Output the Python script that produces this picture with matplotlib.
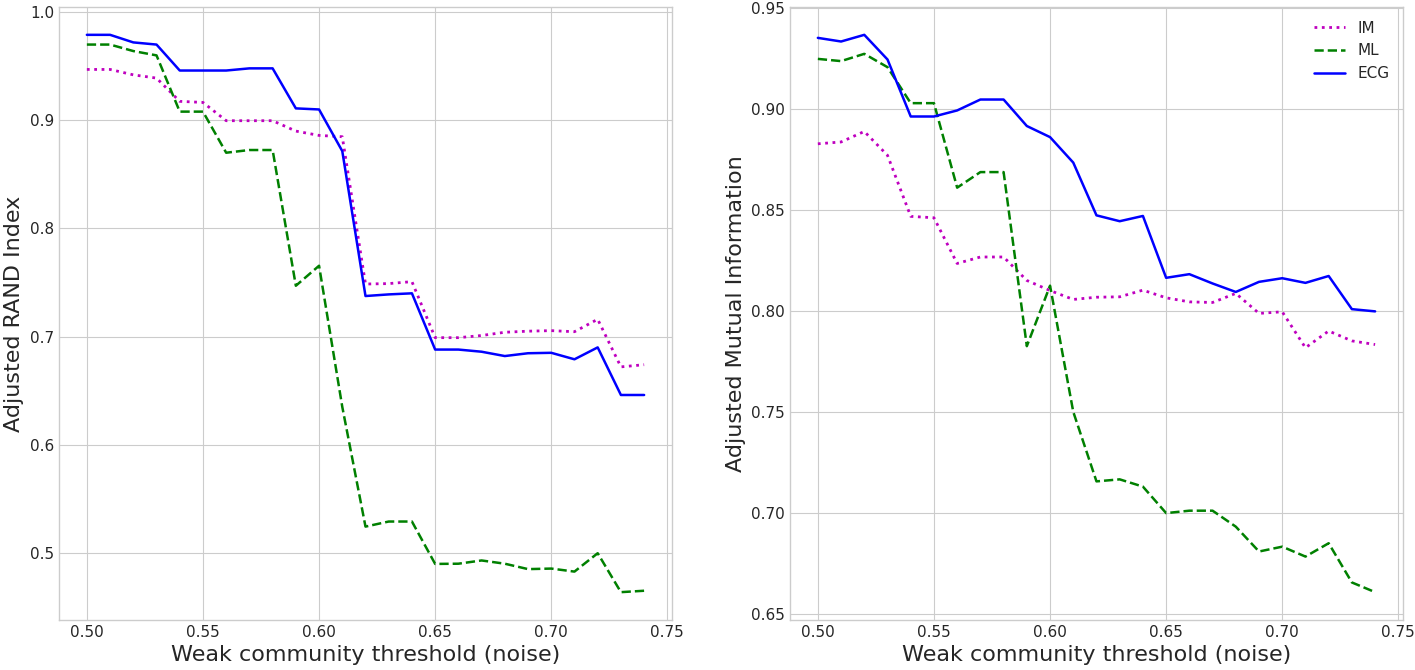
import numpy as np
import matplotlib
matplotlib.use('Agg')
import matplotlib.pyplot as plt

plt.style.use('seaborn-v0_8-whitegrid')
plt.rcParams['font.family'] = ['DejaVu Sans']

# noise thresholds 0.50 .. 0.74
noise = [0.50, 0.51, 0.52, 0.53, 0.54, 0.55, 0.56, 0.57, 0.58, 0.59, 0.60, 0.61,
         0.62, 0.63, 0.64, 0.65, 0.66, 0.67, 0.68, 0.69, 0.70, 0.71, 0.72, 0.73, 0.74]

# Adjusted RAND Index
ari_im = [0.947, 0.947, 0.942, 0.939, 0.9175, 0.9165, 0.8996, 0.8996, 0.8996, 0.890,
          0.886, 0.8848, 0.7486, 0.749, 0.7508, 0.699, 0.699, 0.701, 0.704, 0.705,
          0.7055, 0.7045, 0.716, 0.672, 0.674]
ari_ml = [0.970, 0.970, 0.964, 0.960, 0.908, 0.908, 0.870, 0.8725, 0.8725, 0.747,
          0.7655, 0.635, 0.5243, 0.529, 0.529, 0.4898, 0.490, 0.493, 0.490, 0.485,
          0.4855, 0.4827, 0.4997, 0.4637, 0.465]
ari_ecg = [0.979, 0.979, 0.972, 0.970, 0.946, 0.946, 0.946, 0.948, 0.948, 0.911,
           0.910, 0.8715, 0.7375, 0.739, 0.740, 0.688, 0.688, 0.686, 0.682, 0.6846,
           0.685, 0.679, 0.690, 0.646, 0.646]

# Adjusted Mutual Information
ami_im = [0.8826, 0.8835, 0.8887, 0.8769, 0.8467, 0.846, 0.8234, 0.8266, 0.8266, 0.815,
          0.810, 0.8056, 0.8067, 0.8069, 0.8102, 0.8064, 0.8044, 0.8041, 0.8086, 0.7987,
          0.7995, 0.7817, 0.790, 0.7851, 0.7833]
ami_ml = [0.9246, 0.9235, 0.9271, 0.9205, 0.9027, 0.9027, 0.8609, 0.8686, 0.8686, 0.7825,
          0.8124, 0.750, 0.7156, 0.7166, 0.713, 0.6999, 0.7011, 0.7011, 0.6932, 0.6809,
          0.6833, 0.6784, 0.685, 0.6656, 0.6608]
ami_ecg = [0.935, 0.9332, 0.9365, 0.9243, 0.8961, 0.8961, 0.8991, 0.9045, 0.9045, 0.8914,
           0.8859, 0.8733, 0.8472, 0.8443, 0.8469, 0.8163, 0.8181, 0.8135, 0.8093, 0.8143,
           0.8161, 0.8138, 0.8172, 0.8008, 0.7997]

fig, (ax1, ax2) = plt.subplots(1, 2, figsize=(14.15, 6.7), dpi=100)
plt.subplots_adjust(left=0.0417, right=0.9915, top=0.9896, bottom=0.0746, wspace=0.1925)

for ax, im, ml, ecg, ylab in [(ax1, ari_im, ari_ml, ari_ecg, 'Adjusted RAND Index'),
                              (ax2, ami_im, ami_ml, ami_ecg, 'Adjusted Mutual Information')]:
    ax.plot(noise, im, ':', color='m', lw=2, label='IM')
    ax.plot(noise, ml, '--', color='g', lw=1.8, label='ML')
    ax.plot(noise, ecg, '-', color='b', lw=1.8, label='ECG')
    ax.set_xlabel('Weak community threshold (noise)', fontsize=16, color='.15')
    ax.set_ylabel(ylab, fontsize=16, color='.15')
    ax.tick_params(labelsize=11, colors='.15')
    ax.set_xticks([0.50, 0.55, 0.60, 0.65, 0.70, 0.75])
    ax.set_xticklabels(['0.50', '0.55', '0.60', '0.65', '0.70', '0.75'])
    for s in ax.spines.values():
        s.set_color('.8')

ax2.set_yticks([0.65, 0.70, 0.75, 0.80, 0.85, 0.90, 0.95])
ax2.set_yticklabels(['0.65', '0.70', '0.75', '0.80', '0.85', '0.90', '0.95'])
ax2.legend(loc='upper right', fontsize=11, frameon=False)

plt.savefig('out.png', dpi=100)
